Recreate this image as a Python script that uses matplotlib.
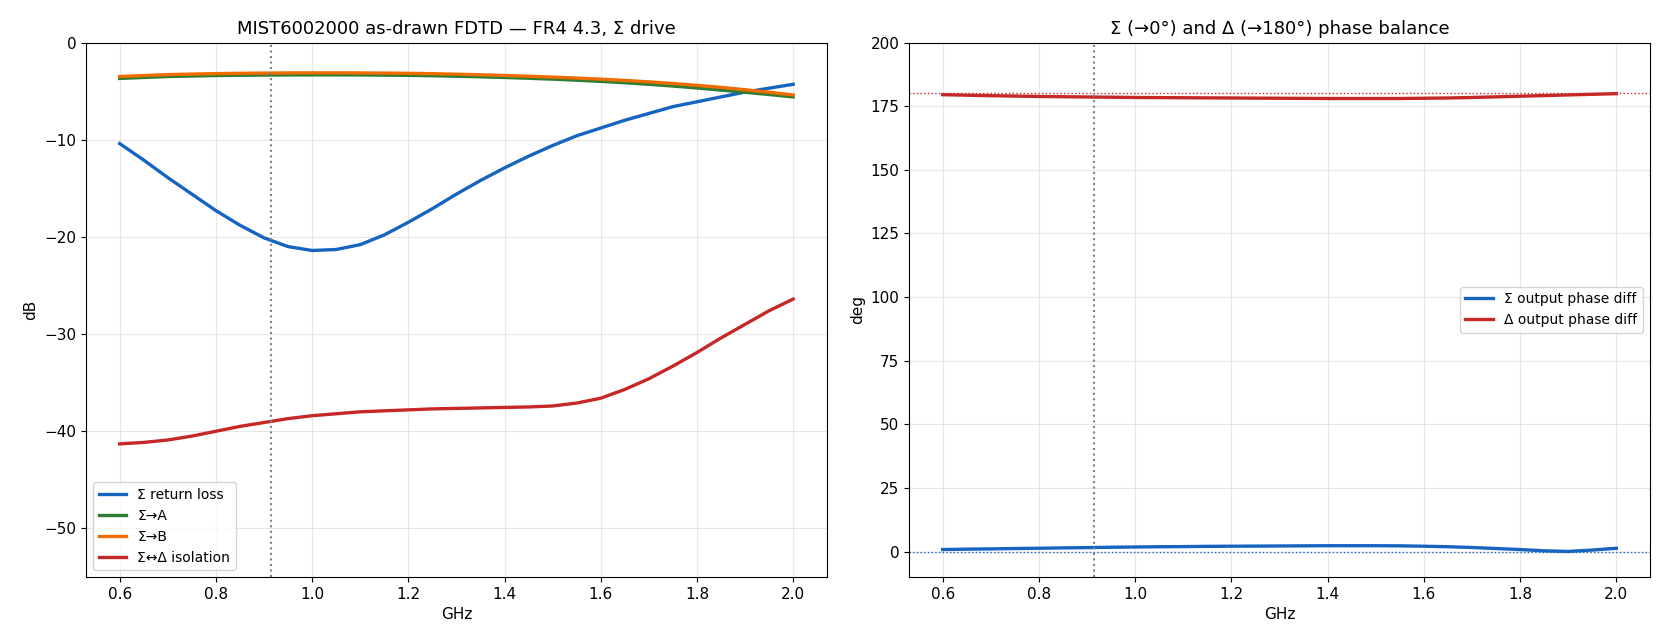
import numpy
import matplotlib
matplotlib.use('Agg')
import matplotlib.pyplot

# frequency grid (GHz)
freq = [0.6, 0.65, 0.7, 0.75, 0.8, 0.85, 0.9, 0.95, 1.0, 1.05, 1.1, 1.15, 1.2, 1.25, 1.3,
	1.35, 1.4, 1.45, 1.5, 1.55, 1.6, 1.65, 1.7, 1.75, 1.8, 1.85, 1.9, 1.95, 2.0]

# S-parameters, dB
ret_loss = [-10.4, -12.1, -13.9, -15.6, -17.3, -18.8, -20.1, -21.0, -21.4, -21.3, -20.8, -19.8, -18.5, -17.1, -15.6,
	-14.2, -12.9, -11.7, -10.6, -9.6, -8.8, -8.0, -7.3, -6.6, -6.1, -5.6, -5.1, -4.7, -4.3]
s_to_a = [-3.7, -3.6, -3.5, -3.45, -3.4, -3.37, -3.35, -3.34, -3.33, -3.33, -3.34, -3.36, -3.38, -3.42, -3.47,
	-3.53, -3.6, -3.68, -3.77, -3.88, -4.0, -4.14, -4.3, -4.48, -4.68, -4.9, -5.12, -5.35, -5.6]
s_to_b = [-3.5, -3.4, -3.3, -3.25, -3.2, -3.17, -3.15, -3.13, -3.12, -3.12, -3.13, -3.15, -3.17, -3.21, -3.26,
	-3.32, -3.39, -3.47, -3.56, -3.66, -3.77, -3.9, -4.05, -4.22, -4.41, -4.62, -4.86, -5.12, -5.4]
isolation = [-41.3, -41.15, -40.9, -40.5, -40.0, -39.5, -39.1, -38.7, -38.4, -38.2, -38.0, -37.9, -37.8, -37.7, -37.65,
	-37.6, -37.55, -37.5, -37.4, -37.1, -36.6, -35.7, -34.6, -33.3, -31.9, -30.4, -29.0, -27.6, -26.4]

# phase balance, deg
sum_phase = [0.8, 0.95, 1.05, 1.2, 1.3, 1.45, 1.55, 1.7, 1.8, 1.9, 1.95, 2.05, 2.1, 2.15, 2.2,
	2.25, 2.3, 2.3, 2.3, 2.25, 2.1, 1.9, 1.6, 1.2, 0.8, 0.3, 0.05, 0.6, 1.3]
diff_phase = [179.5, 179.3, 179.1, 178.95, 178.8, 178.7, 178.6, 178.5, 178.4, 178.35, 178.3, 178.25, 178.2, 178.15, 178.1,
	178.05, 178.0, 178.0, 178.0, 178.0, 178.1, 178.2, 178.4, 178.65, 178.9, 179.15, 179.4, 179.65, 179.9]

f_design = 0.915

blue = '#1565c0'
green = '#2e7d32'
orange = '#ef6c00'
red = '#c62828'

fig = matplotlib.pyplot.figure(figsize=(16.67, 6.44), dpi=100)
ax1 = fig.add_axes([0.0516, 0.104, 0.4444, 0.830])
ax2 = fig.add_axes([0.5453, 0.104, 0.4445, 0.830])

ax1.plot(freq, ret_loss, color=blue, lw=2.4, label='Σ return loss')
ax1.plot(freq, s_to_a, color=green, lw=2.4, label='Σ→A')
ax1.plot(freq, s_to_b, color=orange, lw=2.4, label='Σ→B')
ax1.plot(freq, isolation, color=red, lw=2.4, label='Σ↔Δ isolation')
ax1.axvline(f_design, color='gray', ls=':', lw=1.5)
ax1.set_ylim(-55, 0)
ax1.set_xlabel('GHz')
ax1.set_ylabel('dB')
ax1.set_title('MIST6002000 as-drawn FDTD — FR4 4.3, Σ drive', fontsize=13)
ax1.grid(True, alpha=0.3)
ax1.legend(loc='lower left')

ax2.plot(freq, sum_phase, color=blue, lw=2.4, label='Σ output phase diff')
ax2.plot(freq, diff_phase, color=red, lw=2.4, label='Δ output phase diff')
ax2.axhline(0, color=blue, ls=':', lw=1)
ax2.axhline(180, color=red, ls=':', lw=1)
ax2.axvline(f_design, color='gray', ls=':', lw=1.5)
ax2.set_ylim(-10, 200)
ax2.set_xlabel('GHz')
ax2.set_ylabel('deg')
ax2.set_title('Σ (→0°) and Δ (→180°) phase balance', fontsize=13)
ax2.grid(True, alpha=0.3)
ax2.legend(loc='center right')

for ax in (ax1, ax2):
	ax.tick_params(labelsize=11)
	ax.xaxis.label.set_size(11)
	ax.yaxis.label.set_size(11)

matplotlib.pyplot.savefig('out.png')
matplotlib.pyplot.close(fig)
